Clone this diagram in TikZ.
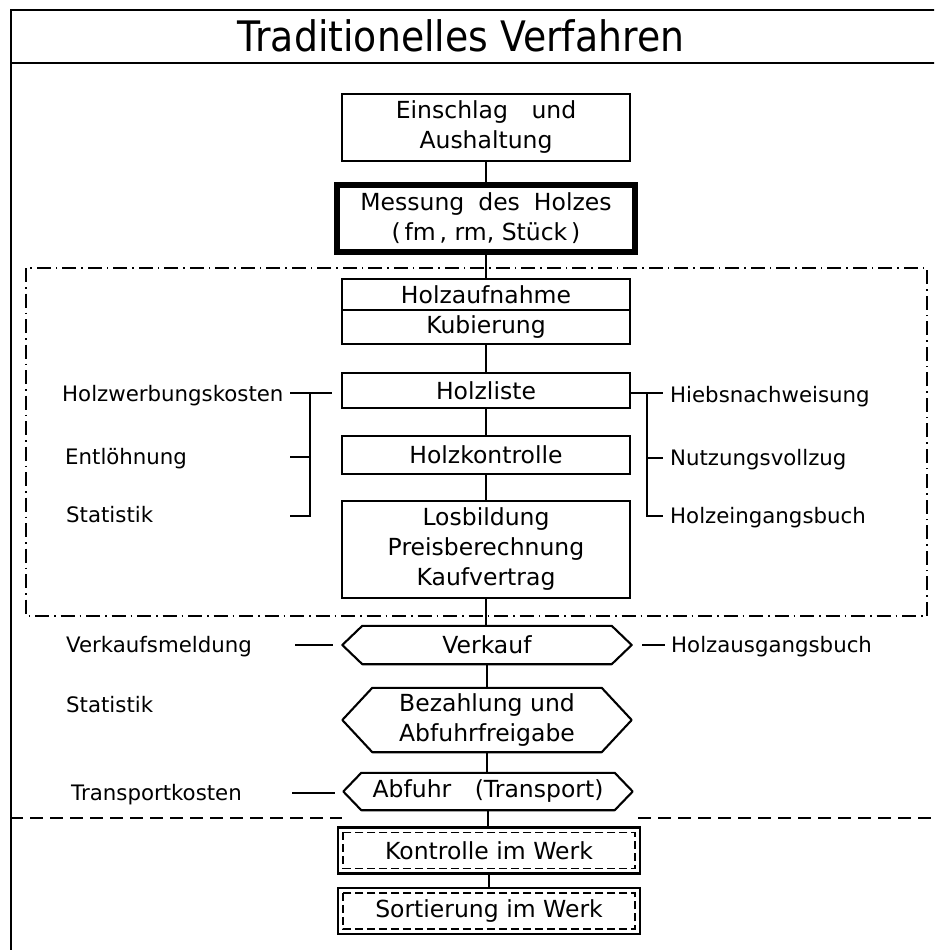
\documentclass[tikz,border=0pt]{standalone}
\usepackage{fontspec}
\setmainfont{DejaVu Sans}
\newfontfamily\titlefont[FakeStretch=0.9]{DejaVu Sans}
\usetikzlibrary{calc}
\newcommand{\hexpath}[2]{\draw[boxline] ([xshift=#2]#1.north west) -- (#1.west) -- ([xshift=#2]#1.south west) -- ([xshift=-#2]#1.south east) -- (#1.east) -- ([xshift=-#2]#1.north east) -- cycle;}
\begin{document}
\begin{tikzpicture}[x=1pt,y=-1pt,
  boxline/.style={line width=2.1pt, line join=round},
  box/.style={draw, line width=2.1pt, minimum width=288pt, align=center, inner sep=0pt, font=\fontsize{23.5}{30}\selectfont},
  hexn/.style={minimum width=289pt, align=center, inner sep=0pt, font=\fontsize{23.5}{30}\selectfont},
  werkbox/.style={draw, line width=2.1pt, minimum width=302pt, align=center, inner sep=0pt, font=\fontsize{23.5}{30}\selectfont},
  innerdash/.style={line width=1.5pt, dash pattern=on 8pt off 4pt},
  lab/.style={anchor=west, inner sep=0pt, font=\fontsize{21.3}{25}\selectfont, text height=15.5pt, text depth=0pt},
  conn/.style={line width=1.8pt},
  dashdotline/.style={line width=1.6pt, dash pattern=on 14pt off 5pt on 1.5pt off 5pt},
  dashline/.style={line width=1.6pt, dash pattern=on 13pt off 7pt},
  frameline/.style={line width=2.2pt}]
\useasboundingbox (0,0) rectangle (934,950);
\clip (0,0) rectangle (934,950);
\fill[white] (0,0) rectangle (934,950);
% frame and title
\draw[frameline] (11,10) rectangle (960,980);
\draw[frameline] (11,63) -- (960,63);
\node[font=\titlefont\fontsize{42}{42}\selectfont, anchor=base, inner sep=0pt] (title) at (461,52) {Traditionelles Verfahren};
% group frames
\draw[dashdotline] (26,268) rectangle (927,616);
\draw[dashline] (10,818) -- (342,818);
\draw[dashline] (638,818) -- (940,818);
% main boxes
\node[box, minimum height=67pt] (einschlag) at (486,127.5) {Einschlag\quad und\\Aushaltung};
\node[box, line width=6.5pt, minimum width=298pt, minimum height=67pt] (messung) at (486,218.5) {Messung\; des\; Holzes\\(\,fm\,, rm, Stück\,)};
\node[box, minimum height=31pt] (aufnahme) at (486,294.5) {Holzaufnahme};
\node[box, minimum height=34pt] (kubierung) at (486,327) {Kubierung};
\node[box, minimum height=35pt] (liste) at (486,390.5) {Holzliste};
\node[box, minimum height=38pt] (kontrolle) at (486,455) {Holzkontrolle};
\node[box, minimum height=97pt] (los) at (486,549.5) {Losbildung\\Preisberechnung\\Kaufvertrag};
\node[hexn, minimum height=38pt] (verkauf) at (487,645) {Verkauf};
\hexpath{verkauf}{20pt}
\node[hexn, minimum height=64pt] (bezahlung) at (487,720) {Bezahlung und\\Abfuhrfreigabe};
\hexpath{bezahlung}{30pt}
\node[hexn, minimum height=37pt] (abfuhr) at (488,791.5) {Abfuhr\quad(Transport)};
\hexpath{abfuhr}{18pt}
\node[werkbox, minimum height=46pt] (kwerk) at (489,850.5) {Kontrolle im Werk};
\draw[innerdash] ([xshift=6pt,yshift=-6pt]kwerk.north west) rectangle ([xshift=-6pt,yshift=6pt]kwerk.south east);
\node[werkbox, minimum height=46pt] (swerk) at (489,911) {Sortierung im Werk};
\draw[innerdash] ([xshift=6pt,yshift=-6pt]swerk.north west) rectangle ([xshift=-6pt,yshift=6pt]swerk.south east);
% connectors
\draw[conn] (einschlag.south) -- (einschlag.south |- messung.north);
\draw[conn] (messung.south) -- (messung.south |- aufnahme.north);
\draw[conn] (kubierung.south) -- (kubierung.south |- liste.north);
\draw[conn] (liste.south) -- (liste.south |- kontrolle.north);
\draw[conn] (kontrolle.south) -- (kontrolle.south |- los.north);
\draw[conn] (los.south) -- (los.south |- verkauf.north);
\draw[conn] (verkauf.south) -- (verkauf.south |- bezahlung.north);
\draw[conn] (bezahlung.south) -- (bezahlung.south |- abfuhr.north);
\draw[conn] (abfuhr.south) -- (abfuhr.south |- kwerk.north);
\draw[conn] (kwerk.south) -- (kwerk.south |- swerk.north);
% labels
\node[lab] (hwk) at (62,394) {Holzwerbungskosten};
\node[lab] (entl) at (65,457) {Entlöhnung};
\node[lab] (stat1) at (66,515) {Statistik};
\node[lab] (hieb) at (670,395) {Hiebsnachweisung};
\node[lab] (nutz) at (670,458) {Nutzungsvollzug};
\node[lab] (hein) at (670,516) {Holzeingangsbuch};
\node[lab] (vkm) at (66,645) {Verkaufsmeldung};
\node[lab] (hausg) at (671,645) {Holzausgangsbuch};
\node[lab] (stat2) at (66,705) {Statistik};
\node[lab] (tk) at (71,793) {Transportkosten};
% brackets
\coordinate (la) at (290,393); \coordinate (lb) at (332,393);
\coordinate (lv) at (310,393); \coordinate (lm) at (290,457); \coordinate (lmv) at (310,457);
\coordinate (lbot) at (290,516); \coordinate (lbotv) at (310,516);
\draw[conn] (la) -- (lb);
\draw[conn] (lv) -- (lbotv) -- (lbot);
\draw[conn] (lm) -- (lmv);
\coordinate (ra) at (630,393); \coordinate (rb) at (663,393);
\coordinate (rv) at (647,393); \coordinate (rm) at (663,458); \coordinate (rmv) at (647,458);
\coordinate (rbot) at (663,516); \coordinate (rbotv) at (647,516);
\draw[conn] (ra) -- (rb);
\draw[conn] (rv) -- (rbotv) -- (rbot);
\draw[conn] (rmv) -- (rm);
\coordinate (vl1) at (295,645); \coordinate (vl2) at (333,645);
\draw[conn] (vl1) -- (vl2);
\coordinate (vr1) at (642,645); \coordinate (vr2) at (665,645);
\draw[conn] (vr1) -- (vr2);
\coordinate (tl1) at (292,793); \coordinate (tl2) at (335,793);
\draw[conn] (tl1) -- (tl2);
\end{tikzpicture}
\end{document}
